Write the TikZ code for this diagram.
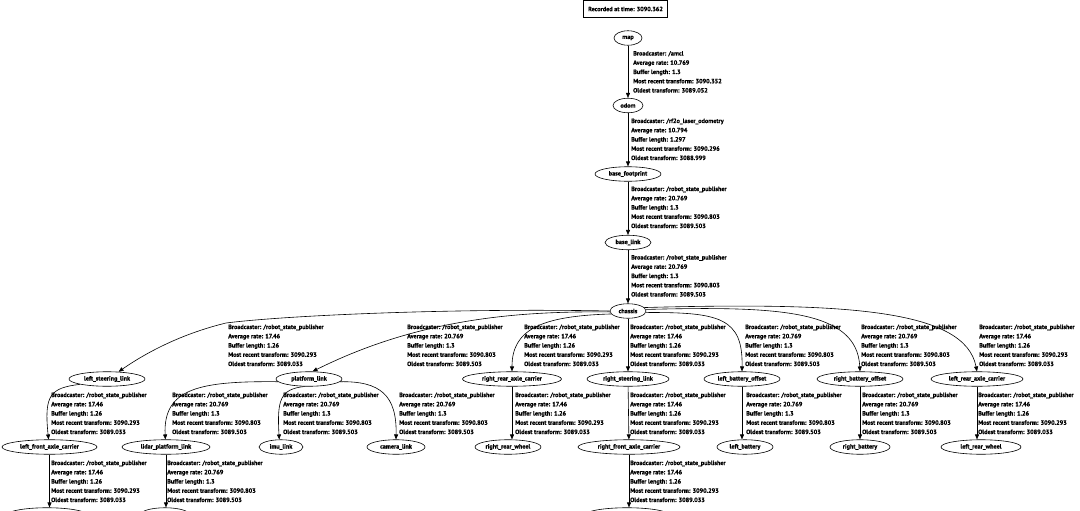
\documentclass[tikz,border=0pt]{standalone}
\usepackage{fontspec}
\setmainfont{PT Sans}[BoldFeatures={FakeBold=0.6}]
\usetikzlibrary{shapes.geometric,arrows.meta}
\newcommand{\tfl}[8]{\node[lab] (#1) at (#2,#3) {\begin{tabular}[t]{@{}l@{}}Broadcaster: #4\\Average rate: #5\\Buffer length: #6\\Most recent transform: #7\\Oldest transform: #8\end{tabular}};}
\newcommand{\fr}[5]{\node[frm, minimum width=#4*2pt] (#1) at (#2,#3) {\makebox[0pt]{#5}};}
\tikzset{
  txt/.style={font=\fontsize{6.2}{9.25}\selectfont\bfseries},
  lab/.style={txt, anchor=base west, inner sep=0pt},
  frm/.style={txt, draw, ellipse, line width=0.6pt, inner sep=0pt, minimum height=14.5pt},
  edge/.style={line width=0.6pt, -{Triangle[length=5pt,width=4pt]}},
}
\begin{document}
\begin{tikzpicture}[x=1pt,y=-1pt]
\useasboundingbox (0,0) rectangle (1080,511);
\clip (0,0) rectangle (1080,511);
\fill[white] (0,0) rectangle (1080,511);
\node[txt, draw, line width=0.6pt, minimum width=84pt, minimum height=17pt, inner sep=0pt] (rec) at (625.5,9) {Recorded at time: 3090.362};
% frames
\fr{map}{628}{38}{14}{map}
\fr{odom}{628}{105.5}{15}{odom}
\fr{bf}{628}{174}{33}{base\_footprint}
\fr{bl}{628}{242.5}{23}{base\_link}
\fr{ch}{628}{311}{18}{chassis}
\fr{lsl}{107}{379}{38}{left\_steering\_link}
\fr{pl}{309}{379}{33}{platform\_link}
\fr{rrac}{512}{379}{49.5}{right\_rear\_axle\_carrier}
\fr{rsl}{628}{379}{41}{right\_steering\_link}
\fr{lbo}{742}{379}{38}{left\_battery\_offset}
\fr{rbo}{860}{379}{43}{right\_battery\_offset}
\fr{lrac}{977}{379}{46}{left\_rear\_axle\_carrier}
\fr{lfac}{49.5}{447}{47.5}{left\_front\_axle\_carrier}
\fr{lpl}{166}{447}{44}{lidar\_platform\_link}
\fr{imu}{281}{447}{22}{imu\_link}
\fr{cam}{396}{447}{29}{camera\_link}
\fr{rrw}{508}{447}{33}{right\_rear\_wheel}
\fr{rfac}{629}{447}{51}{right\_front\_axle\_carrier}
\fr{lb}{745}{447}{28}{left\_battery}
\fr{rb}{860}{447}{30}{right\_battery}
\fr{lrw}{981}{447}{40}{left\_rear\_wheel}
\fr{bA}{47}{515}{40}{}
\fr{bB}{165}{515}{25}{}
\fr{bC}{627}{515}{42}{}
% chain edges
\draw[edge] (map) -- (odom);
\draw[edge] (odom) -- (bf);
\draw[edge] (bf) -- (bl);
\draw[edge] (bl) -- (ch);
% chassis children
\coordinate (via) at (226,323);
\draw[edge] (ch.west) .. controls (460,308) and (290,315) .. (via) .. controls (185,333) and (150,350) .. (lsl.32);
\draw[edge] (ch.183) .. controls (520,311) and (420,318) .. (pl.65);
\draw[edge] (ch.190) .. controls (540,316) and (512,330) .. (rrac.south |- rrac.north);
\draw[edge] (ch) -- (rsl);
\draw[edge] (ch.355) .. controls (720,312) and (743,318) .. (lbo.north);
\draw[edge] (ch.5) .. controls (780,306) and (857,310) .. (rbo.north);
\draw[edge] (ch.12) .. controls (850,302) and (965,310) .. (lrac.north);
% row 2 -> 3
\draw[edge] (lsl.south west) .. controls (50,388) and (44,395) .. (lfac.97);
\draw[edge] (pl.185) .. controls (200,381) and (163,388) .. (lpl.95);
\draw[edge] (pl.240) .. controls (280,389) and (277,400) .. (imu.103);
\draw[edge] (pl.355) .. controls (380,381) and (397,395) .. (cam.north);
\draw[edge] (rrac.south) -- (rrac.south |- rrw.north);
\draw[edge] (rsl) -- (rfac);
\draw[edge] (lbo.south) -- (lbo.south |- lb.north);
\draw[edge] (rbo) -- (rb);
\draw[edge] (lrac.south) -- (lrac.south |- lrw.north);
% row 3 -> 4
\draw[edge] (lfac.south) -- (lfac.south |- bA.north);
\draw[edge] (lpl.south) -- (lpl.south |- bB.north);
\draw[edge] (rfac.south) -- (rfac.south |- bC.north);
% labels
\tfl{t1}{633}{55.5}{/amcl}{10.769}{1.3}{3090.352}{3089.052}
\tfl{t2}{631}{123}{/rf2o\_laser\_odometry}{10.794}{1.297}{3090.296}{3088.999}
\tfl{t3}{631}{191}{/robot\_state\_publisher}{20.769}{1.3}{3090.803}{3089.503}
\tfl{t4}{631}{259.5}{/robot\_state\_publisher}{20.769}{1.3}{3090.803}{3089.503}
\tfl{t5}{228}{329}{/robot\_state\_publisher}{17.46}{1.26}{3090.293}{3089.033}
\tfl{t6}{407}{329}{/robot\_state\_publisher}{20.769}{1.3}{3090.803}{3089.503}
\tfl{t7}{524}{329}{/robot\_state\_publisher}{17.46}{1.26}{3090.293}{3089.033}
\tfl{t8}{630}{329}{/robot\_state\_publisher}{17.46}{1.26}{3090.293}{3089.033}
\tfl{t9}{745}{329}{/robot\_state\_publisher}{20.769}{1.3}{3090.803}{3089.503}
\tfl{t10}{861}{329}{/robot\_state\_publisher}{20.769}{1.3}{3090.803}{3089.503}
\tfl{t11}{979}{329}{/robot\_state\_publisher}{17.46}{1.26}{3090.293}{3089.033}
\tfl{t12}{51}{397}{/robot\_state\_publisher}{17.46}{1.26}{3090.293}{3089.033}
\tfl{t13}{172}{397}{/robot\_state\_publisher}{20.769}{1.3}{3090.803}{3089.503}
\tfl{t14}{283}{397}{/robot\_state\_publisher}{20.769}{1.3}{3090.803}{3089.503}
\tfl{t15}{399}{397}{/robot\_state\_publisher}{20.769}{1.3}{3090.803}{3089.503}
\tfl{t16}{515}{397}{/robot\_state\_publisher}{17.46}{1.26}{3090.293}{3089.033}
\tfl{t17}{630}{397}{/robot\_state\_publisher}{17.46}{1.26}{3090.293}{3089.033}
\tfl{t18}{746}{397}{/robot\_state\_publisher}{20.769}{1.3}{3090.803}{3089.503}
\tfl{t19}{862}{397}{/robot\_state\_publisher}{20.769}{1.3}{3090.803}{3089.503}
\tfl{t20}{978}{397}{/robot\_state\_publisher}{17.46}{1.26}{3090.293}{3089.033}
\tfl{t21}{51}{465}{/robot\_state\_publisher}{17.46}{1.26}{3090.293}{3089.033}
\tfl{t22}{167}{465}{/robot\_state\_publisher}{20.769}{1.3}{3090.803}{3089.503}
\tfl{t23}{630}{465}{/robot\_state\_publisher}{17.46}{1.26}{3090.293}{3089.033}
\end{tikzpicture}
\end{document}
